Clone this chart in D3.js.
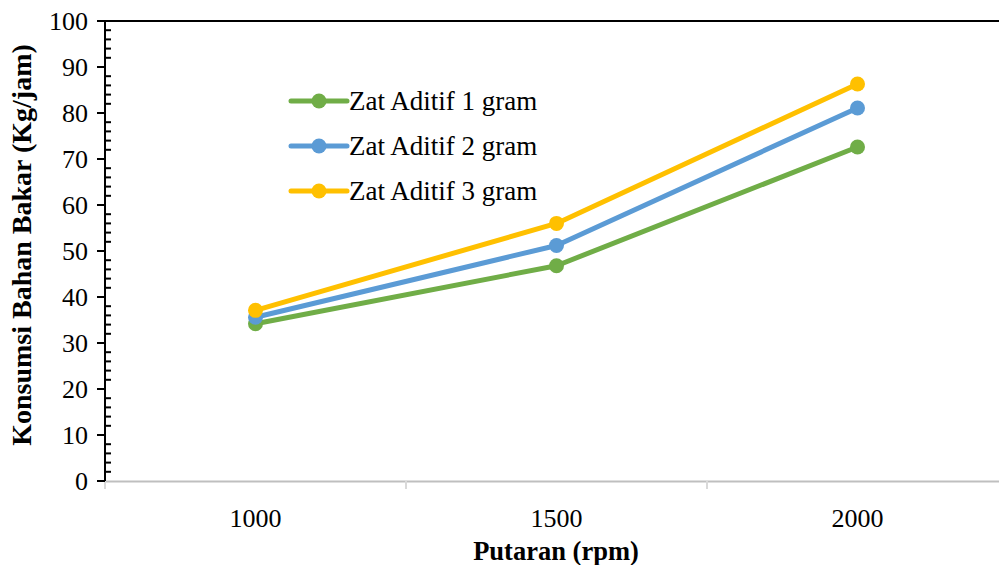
<!DOCTYPE html>
<html>
<head>
<meta charset="utf-8">
<script src="https://cdn.jsdelivr.net/npm/d3@7"></script>
<style>
  body { margin: 0; background: #fff; }
  svg { display: block; }
</style>
</head>
<body>
<svg id="chart" width="999" height="565"></svg>
<script>
// data
const rpm = ["1000", "1500", "2000"];
const aditif1 = [34.2, 46.8, 72.6];
const aditif2 = [35.6, 51.2, 81.1];
const aditif3 = [37.1, 56.0, 86.3];
const seriesNames = ["Zat Aditif 1 gram", "Zat Aditif 2 gram", "Zat Aditif 3 gram"];
const colors = ["#70ad47", "#5b9bd5", "#ffc000"];
const yTicks = [0, 10, 20, 30, 40, 50, 60, 70, 80, 90, 100];

const series = [aditif1, aditif2, aditif3].map((v, i) => ({ name: seriesNames[i], color: colors[i], values: v }));

const FONT = "'Liberation Serif', 'Times New Roman', serif";
const svg = d3.select("#chart");
const mLeft = 105, mRight = 1008, mTop = 21, mBottom = 481;

const x = d3.scaleBand().domain(rpm).range([mLeft, mRight]);
const y = d3.scaleLinear().domain([0, 100]).range([mBottom, mTop]);

// top border
svg.append("line")
  .attr("x1", mLeft - 8).attr("x2", 999)
  .attr("y1", y(100)).attr("y2", y(100))
  .attr("stroke", "#000").attr("stroke-width", 2);

// x axis (grey)
svg.append("line")
  .attr("x1", mLeft).attr("x2", 999)
  .attr("y1", mBottom + 0.5).attr("y2", mBottom + 0.5)
  .attr("stroke", "#bfbfbf").attr("stroke-width", 2);
const xEdges = rpm.map(d => x(d)).concat([mRight]);
svg.selectAll(".xtick").data(xEdges).enter().append("line")
  .attr("x1", d => d).attr("x2", d => d)
  .attr("y1", mBottom).attr("y2", mBottom + 8)
  .attr("stroke", "#d9d9d9").attr("stroke-width", 2);
svg.selectAll(".xlab").data(rpm).enter().append("text")
  .attr("x", d => x(d) + x.bandwidth() / 2)
  .attr("y", 527)
  .attr("text-anchor", "middle")
  .attr("font-family", FONT)
  .attr("font-size", 26)
  .text(d => d);

// y axis with minor ticks
svg.append("line")
  .attr("x1", mLeft).attr("x2", mLeft)
  .attr("y1", mTop).attr("y2", mBottom)
  .attr("stroke", "#000").attr("stroke-width", 2);
const minor = d3.range(0, 101, 2).filter(v => v % 10 !== 0);
svg.selectAll(".ymin").data(minor).enter().append("line")
  .attr("x1", mLeft).attr("x2", mLeft + 6)
  .attr("y1", d => y(d)).attr("y2", d => y(d))
  .attr("stroke", "#000").attr("stroke-width", 2);
svg.selectAll(".ymaj").data(yTicks).enter().append("line")
  .attr("x1", mLeft - 8).attr("x2", mLeft)
  .attr("y1", d => y(d)).attr("y2", d => y(d))
  .attr("stroke", "#000").attr("stroke-width", 2);
svg.selectAll(".ylab").data(yTicks).enter().append("text")
  .attr("x", 88)
  .attr("y", d => y(d) + 9)
  .attr("text-anchor", "end")
  .attr("font-family", FONT)
  .attr("font-size", 26)
  .text(d => d);

// axis titles
svg.append("text")
  .attr("x", 556).attr("y", 560)
  .attr("text-anchor", "middle")
  .attr("font-family", FONT)
  .attr("font-size", 26.5).attr("font-weight", "bold")
  .text("Putaran (rpm)");
svg.append("text")
  .attr("transform", "translate(31,245) rotate(-90)")
  .attr("text-anchor", "middle")
  .attr("font-family", FONT)
  .attr("font-size", 28).attr("font-weight", "bold")
  .text("Konsumsi Bahan Bakar (Kg/jam)");

// lines + markers
const line = d3.line()
  .x((d, i) => x(rpm[i]) + x.bandwidth() / 2)
  .y(d => y(d));

const gs = svg.selectAll(".series").data(series).enter().append("g");
gs.append("path")
  .attr("d", d => line(d.values))
  .attr("fill", "none")
  .attr("stroke", d => d.color)
  .attr("stroke-width", 5)
  .attr("stroke-linejoin", "round");
gs.selectAll("circle")
  .data(d => d.values.map((v, i) => ({ v, i, color: d.color })))
  .enter().append("circle")
  .attr("cx", d => x(rpm[d.i]) + x.bandwidth() / 2)
  .attr("cy", d => y(d.v))
  .attr("r", 7.5)
  .attr("fill", d => d.color);

// legend
const lg = svg.selectAll(".legend").data(series).enter().append("g")
  .attr("transform", (d, i) => `translate(291,${101 + i * 45})`);
lg.append("line")
  .attr("x1", 0).attr("x2", 56)
  .attr("stroke", d => d.color)
  .attr("stroke-width", 5)
  .attr("stroke-linecap", "round");
lg.append("circle")
  .attr("cx", 28).attr("r", 7.5)
  .attr("fill", d => d.color);
lg.append("text")
  .attr("x", 58).attr("y", 9)
  .attr("font-family", FONT)
  .attr("font-size", 27)
  .text(d => d.name);
</script>
</body>
</html>
